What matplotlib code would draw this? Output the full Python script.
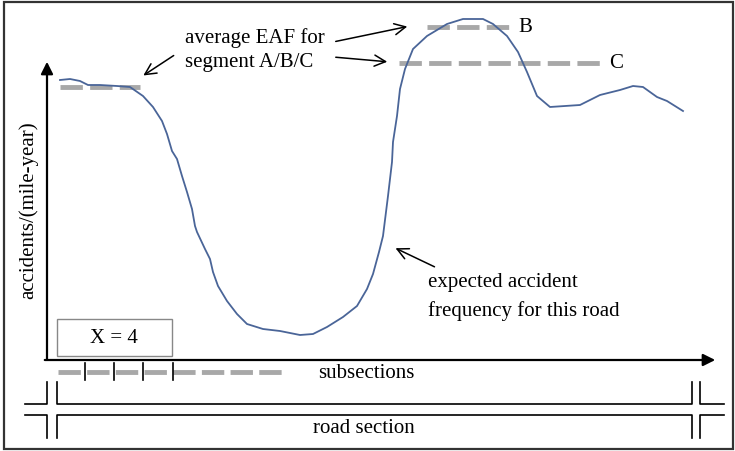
import matplotlib.pyplot as plt

plt.rcParams['font.family'] = ['Liberation Serif', 'DejaVu Serif']

# expected accident frequency curve (image pixel coordinates, y grows downward)
curve_x = [60, 70, 80, 88, 100, 117, 130, 143, 153, 162, 167, 172, 177, 182, 187, 192,
           195, 197, 205, 210, 213, 218, 227, 237, 247, 263, 280, 300, 313, 327, 343,
           357, 367, 373, 379, 383, 388, 392, 393, 397, 400, 405, 413, 427, 447, 463,
           483, 493, 507, 518, 527, 537, 550, 580, 600, 620, 633, 643, 657, 667, 683]
curve_y = [81, 80, 82, 86, 86, 87, 88, 97, 108, 122, 135, 152, 160, 177, 193, 210,
           227, 233, 250, 260, 273, 287, 302, 315, 325, 330, 332, 336, 335, 328, 318,
           307, 290, 275, 253, 237, 197, 163, 143, 117, 90, 70, 50, 37, 25, 20,
           20, 25, 37, 53, 73, 97, 108, 106, 96, 91, 87, 88, 98, 102, 112]

# average EAF levels for segments A, B, C: (x start, x end, level)
seg_names = ['A', 'B', 'C']
seg_x0 = [60, 427, 399]
seg_x1 = [140, 509, 600]
seg_level = [88, 28, 64]

# subsection ticks (X = 4)
sub_ticks = [85, 114, 143, 173]

fig = plt.figure(figsize=(7.35, 4.52), dpi=100)
ax = fig.add_axes([0, 0, 1, 1])
ax.set_xlim(0, 735)
ax.set_ylim(452, 0)
ax.axis('off')

fs = 15
gray = '#a8a8a8'

# outer frame
ax.add_patch(plt.Rectangle((4, 3), 729, 447, fill=False, ec='#333333', lw=1.6))

# axes arrows
ax.annotate('', xy=(47, 60), xytext=(47, 363),
            arrowprops=dict(arrowstyle='-|>', color='black', lw=1.6, mutation_scale=18))
ax.annotate('', xy=(718, 361), xytext=(42, 361),
            arrowprops=dict(arrowstyle='-|>', color='black', lw=1.6, mutation_scale=18))

# curve
ax.plot(curve_x, curve_y, color='#4a6598', lw=1.3, zorder=3)

# segment averages
for name, x0, x1, lev in zip(seg_names, seg_x0, seg_x1, seg_level):
    ax.plot([x0, x1], [lev, lev], color=gray, lw=3.5, dashes=(4.6, 1.5),
            solid_capstyle='butt', dash_capstyle='butt', zorder=2)
    if name != 'A':
        ax.text(x1 + 9, lev, name, fontsize=fs, va='center', ha='left')

ax.text(185, 38, 'average EAF for', fontsize=fs, va='center', ha='left')
ax.text(185, 63, 'segment A/B/C', fontsize=fs, va='center', ha='left')

arw = dict(arrowstyle='->', color='black', lw=1.1, mutation_scale=20)
ax.annotate('', xy=(141, 78), xytext=(176, 55), arrowprops=arw)
ax.annotate('', xy=(410, 27), xytext=(333, 43), arrowprops=arw)
ax.annotate('', xy=(390, 63), xytext=(333, 58), arrowprops=arw)
ax.annotate('', xy=(393, 248), xytext=(437, 269), arrowprops=arw)

ax.text(428, 283, 'expected accident', fontsize=fs, va='center', ha='left')
ax.text(428, 311, 'frequency for this road', fontsize=fs, va='center', ha='left')

ax.text(28, 210, 'accidents/(mile-year)', fontsize=fs, rotation=90, va='center', ha='center')

# X = 4 box
ax.add_patch(plt.Rectangle((57, 320), 115, 37, fill=False, ec='#888888', lw=1.0))
ax.text(114, 339, 'X = 4', fontsize=fs, va='center', ha='center')

# subsections
ax.plot([58, 287], [373, 373], color=gray, lw=3.5, dashes=(4.6, 1.3),
        dash_capstyle='butt', zorder=2)
for t in sub_ticks:
    ax.plot([t, t], [364, 381], color='black', lw=1.2, zorder=3)
ax.text(366, 374, 'subsections', fontsize=fs, va='center', ha='center')

# road section brackets
k = dict(color='black', lw=1.2)
ax.plot([25, 47, 47], [405, 405, 383], **k)
ax.plot([57, 57, 692, 692], [383, 405, 405, 383], **k)
ax.plot([700, 700, 724], [383, 405, 405], **k)
ax.plot([25, 47, 47], [416, 416, 439], **k)
ax.plot([57, 57, 692, 692], [439, 416, 416, 439], **k)
ax.plot([700, 700, 724], [439, 416, 416], **k)
ax.text(364, 429, 'road section', fontsize=fs, va='center', ha='center')

fig.savefig('out.png', dpi=100)
